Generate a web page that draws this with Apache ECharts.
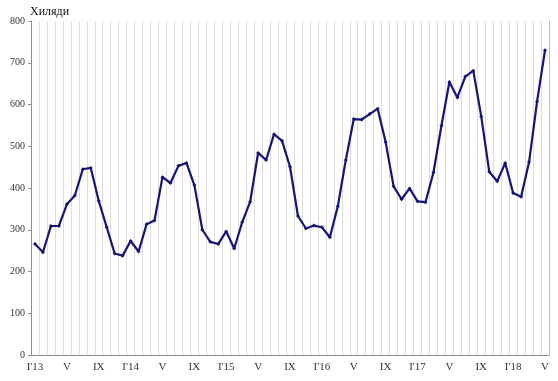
<!DOCTYPE html>
<html>
<head>
<meta charset="utf-8">
<script src="https://cdn.jsdelivr.net/npm/echarts@6/dist/echarts.min.js"></script>
<style>
html,body{margin:0;padding:0;background:#fff;}
#chart{width:558px;height:381px;}
</style>
</head>
<body>
<div id="chart"></div>
<script>
var months = ["I'13","II","III","IV","V","VI","VII","VIII","IX","X","XI","XII",
  "I'14","II","III","IV","V","VI","VII","VIII","IX","X","XI","XII",
  "I'15","II","III","IV","V","VI","VII","VIII","IX","X","XI","XII",
  "I'16","II","III","IV","V","VI","VII","VIII","IX","X","XI","XII",
  "I'17","II","III","IV","V","VI","VII","VIII","IX","X","XI","XII",
  "I'18","II","III","IV","V"];
var values = [266,246,309,309,361,382,445,448,369,306,243,238,
  273,248,313,322,426,412,453,460,407,300,271,266,
  296,255,318,367,484,467,529,513,451,333,303,310,
  306,282,356,467,565,564,577,590,510,404,373,399,
  368,366,437,549,654,617,667,681,571,439,416,460,
  388,379,462,607,730];
var yTicks = [0,100,200,300,400,500,600,700,800];
var unitLabel = "Хиляди";

var chart = echarts.init(document.getElementById('chart'));
var font = "'Liberation Serif','Times New Roman',serif";
chart.setOption({
  animation:false,
  backgroundColor:'#fff',
  grid:{left:31,right:9,top:21,bottom:26},
  graphic:[{type:'text',left:30,top:6,style:{text:unitLabel,font:"12px "+font,fill:'#111'}}],
  xAxis:{type:'category',data:months,boundaryGap:true,
    axisLine:{show:true,lineStyle:{color:'#8c8c8c',width:1}},
    axisTick:{show:false},
    axisLabel:{interval:3,fontFamily:font,fontSize:11,color:'#333',margin:7},
    splitLine:{show:true,interval:0,lineStyle:{color:'#dcdcdc',width:1}}},
  yAxis:[{type:'value',min:yTicks[0],max:yTicks[yTicks.length-1],interval:100,
    axisLine:{show:true,lineStyle:{color:'#8c8c8c',width:1}},
    axisTick:{show:true,length:3,lineStyle:{color:'#8c8c8c'}},
    axisLabel:{fontFamily:font,fontSize:10,color:'#333',margin:6},
    splitLine:{show:false}},
   {type:'value',position:'right',min:0,max:800,interval:100,
    axisLine:{show:true,lineStyle:{color:'#bfbfbf',width:1}},
    axisTick:{show:false},axisLabel:{show:false},splitLine:{show:false}}],
  series:[{type:'line',data:values,yAxisIndex:0,
    lineStyle:{color:'#14147a',width:2.2},
    itemStyle:{color:'#14147a'},
    symbol:'diamond',symbolSize:4,showSymbol:true}]
});
</script>
</body>
</html>
